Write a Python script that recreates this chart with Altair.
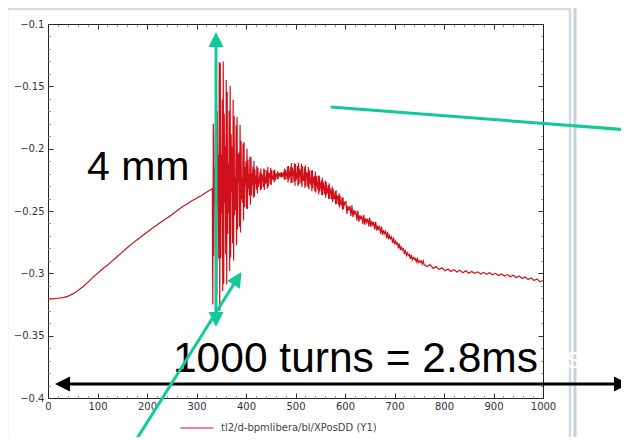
import altair as alt
import pandas as pd

SERIES = "tl2/d-bpmlibera/bl/XPosDD (Y1)"

# ---- data (turn number, position) ----
base_turns = list(range(0, 331, 10)) + [332]
base_vals = [-0.3205, -0.3205, -0.3200, -0.3195, -0.3185, -0.3165, -0.3140, -0.3110,
             -0.3075, -0.3035, -0.3000, -0.2965, -0.2935, -0.2900, -0.2865, -0.2830,
             -0.2795, -0.2762, -0.2730, -0.2700, -0.2670, -0.2640, -0.2612, -0.2585,
             -0.2558, -0.2530, -0.2500, -0.2470, -0.2445, -0.2420, -0.2398, -0.2375,
             -0.2350, -0.2325, -0.2320]

# turn-by-turn samples after the kick, from turn 333
kick_vals = [-0.3250, -0.1800, -0.2860, -0.2150, -0.2450, -0.1850, -0.3150, -0.1450,
             -0.3170, -0.1700, -0.2456, -0.2050, -0.2884, -0.1305, -0.3300, -0.1314,
             -0.2878, -0.2046, -0.2520, -0.1606, -0.3142, -0.1300, -0.3086, -0.1720,
             -0.2434, -0.1980, -0.2848, -0.1450, -0.3090, -0.1545, -0.2685, -0.2120,
             -0.2519, -0.1696, -0.2982, -0.1498, -0.2873, -0.1885, -0.2344, -0.1984,
             -0.2761, -0.1607, -0.2897, -0.1738, -0.2535, -0.2232, -0.2494, -0.1813,
             -0.2774, -0.1746, -0.2648, -0.2040, -0.2265, -0.2029, -0.2626, -0.1809,
             -0.2672, -0.1939, -0.2406, -0.2238, -0.2435, -0.1960, -0.2577, -0.1946,
             -0.2470, -0.2148, -0.2296, -0.2102, -0.2480, -0.2000, -0.2483, -0.2087,
             -0.2319, -0.2206, -0.2375, -0.2065, -0.2450, -0.2066, -0.2374, -0.2199,
             -0.2293, -0.2146, -0.2394, -0.2100, -0.2385, -0.2165, -0.2284, -0.2215,
             -0.2328, -0.2140, -0.2360, -0.2153, -0.2307, -0.2230, -0.2280, -0.2189,
             -0.2334, -0.2160, -0.2326, -0.2200, -0.2261, -0.2215, -0.2309, -0.2159,
             -0.2332, -0.2167, -0.2286, -0.2228, -0.2274, -0.2173, -0.2322, -0.2147,
             -0.2304, -0.2193, -0.2233, -0.2196, -0.2286, -0.2156, -0.2292, -0.2173,
             -0.2249, -0.2221, -0.2248, -0.2174, -0.2272, -0.2170, -0.2254, -0.2201,
             -0.2222, -0.2197, -0.2245, -0.2182, -0.2243, -0.2194, -0.2222, -0.2209,
             -0.2223, -0.2193]

# turn-by-turn samples of the second bump, from turn 471
ring_vals = [-0.2230, -0.2188, -0.2229, -0.2200, -0.2217, -0.2185, -0.2246, -0.2160,
             -0.2252, -0.2171, -0.2220, -0.2190, -0.2243, -0.2144, -0.2271, -0.2139,
             -0.2247, -0.2184, -0.2222, -0.2148, -0.2275, -0.2116, -0.2276, -0.2151,
             -0.2219, -0.2175, -0.2266, -0.2117, -0.2298, -0.2124, -0.2255, -0.2191,
             -0.2240, -0.2140, -0.2298, -0.2114, -0.2287, -0.2161, -0.2221, -0.2174,
             -0.2280, -0.2121, -0.2307, -0.2139, -0.2259, -0.2215, -0.2259, -0.2149,
             -0.2316, -0.2134, -0.2300, -0.2190, -0.2234, -0.2191, -0.2309, -0.2148,
             -0.2326, -0.2174, -0.2277, -0.2233, -0.2293, -0.2176, -0.2341, -0.2171,
             -0.2320, -0.2230, -0.2277, -0.2219, -0.2341, -0.2185, -0.2352, -0.2218,
             -0.2303, -0.2263, -0.2329, -0.2215, -0.2368, -0.2217, -0.2344, -0.2274,
             -0.2317, -0.2254, -0.2371, -0.2231, -0.2374, -0.2265, -0.2331, -0.2296,
             -0.2365, -0.2256, -0.2393, -0.2265, -0.2368, -0.2318, -0.2355, -0.2292,
             -0.2403, -0.2278, -0.2403, -0.2316, -0.2363, -0.2335, -0.2405, -0.2304,
             -0.2429, -0.2320, -0.2405, -0.2370, -0.2404, -0.2341, -0.2446, -0.2333,
             -0.2443, -0.2372, -0.2404, -0.2382, -0.2454, -0.2358, -0.2471, -0.2376,
             -0.2447, -0.2425, -0.2455, -0.2391, -0.2490, -0.2390, -0.2483, -0.2428,
             -0.2458, -0.2429]

# every second turn, from turn 602
decay_vals = [-0.2425, -0.2524, -0.2458, -0.2496, -0.2461, -0.2542, -0.2455, -0.2550,
              -0.2491, -0.2529, -0.2500, -0.2576, -0.2497, -0.2587, -0.2534, -0.2567,
              -0.2538, -0.2606, -0.2530, -0.2611, -0.2558, -0.2589, -0.2561, -0.2623,
              -0.2553, -0.2628, -0.2582, -0.2612, -0.2589, -0.2648, -0.2587, -0.2658,
              -0.2617, -0.2646, -0.2626, -0.2681, -0.2626, -0.2691, -0.2654, -0.2681,
              -0.2665, -0.2717, -0.2668, -0.2728, -0.2697, -0.2722, -0.2708, -0.2756,
              -0.2713, -0.2768, -0.2741, -0.2766, -0.2755, -0.2800, -0.2762, -0.2814,
              -0.2790, -0.2813, -0.2804, -0.2845, -0.2812, -0.2857, -0.2836, -0.2857,
              -0.2849, -0.2883, -0.2852, -0.2891, -0.2872, -0.2888, -0.2879, -0.2908,
              -0.2881, -0.2915, -0.2898, -0.2911, -0.2901, -0.2927, -0.2900, -0.2932]

# every sixth turn, from turn 766
tail_vals = [-0.2945, -0.2930, -0.2960, -0.2945, -0.2970, -0.2955, -0.2980, -0.2965,
             -0.2985, -0.2970, -0.2990, -0.2975, -0.2995, -0.2980, -0.3000, -0.2985,
             -0.3000, -0.2988, -0.3005, -0.2992, -0.3008, -0.2995, -0.3012, -0.3000,
             -0.3018, -0.3005, -0.3022, -0.3010, -0.3028, -0.3015, -0.3035, -0.3022,
             -0.3042, -0.3030, -0.3050, -0.3038, -0.3058, -0.3045, -0.3068, -0.3058]

kick_turns = list(range(333, 333 + len(kick_vals)))
ring_turns = list(range(471, 471 + len(ring_vals)))
decay_turns = list(range(602, 602 + 2 * len(decay_vals), 2))
tail_turns = list(range(766, 766 + 6 * len(tail_vals), 6))

x_ticks = list(range(0, 1001, 100))
x_minor = list(range(0, 1001, 20))
y_ticks = [-0.4, -0.35, -0.3, -0.25, -0.2, -0.15, -0.1]
y_minor = [round(-0.40 + 0.01 * i, 2) for i in range(31)]

# annotation anchors in data units
v_arrow = {"x": [339.4], "y": [-0.1123], "y2": [-0.3382]}
d_arrow = {"x": [171.7], "y": [-0.4377], "x2": [384.4], "y2": [-0.3030]}
g_line = {"x": [571.1], "y": [-0.16658], "x2": [1173.7], "y2": [-0.18502]}
b_arrow = {"x": [26.3], "x2": [1161.6], "y": [-0.38876]}
green_heads = {"x": [339.4, 339.4, 390.9], "y": [-0.10642, -0.34304, -0.2989], "ang": [0, 180, 32]}
black_heads = {"x": [14.1, 1173.7], "y": [-0.38876, -0.38876], "ang": [270, 90]}
labels = {"x": [78.8, 252.5], "y": [-0.22513, -0.37914], "t": ["4 mm", "1000 turns = 2.8ms"],
          "s": [41, 42.5]}

# ---- build ----
turns = base_turns + kick_turns + ring_turns + decay_turns + tail_turns
vals = base_vals + kick_vals + ring_vals + decay_vals + tail_vals
df = pd.DataFrame({"turn": turns, "pos": vals, "series": SERIES})

W, H = 495, 374
GREEN = "#12c99a"
RED = "#d0101a"
FONT = "DejaVu Sans"
HEAD = "M0,0 L-0.5,1 L0.5,1 Z"

xs = alt.Scale(domain=[0, 1000], nice=False, zero=False)
ys = alt.Scale(domain=[-0.4, -0.1], nice=False, zero=False)

xmaj = "datum.value % 100 === 0"
ymaj = "abs(datum.value * 20 - round(datum.value * 20)) < 0.001"


def tick_axis(orient, offset, values, test, domain):
    return alt.Axis(orient=orient, offset=offset, values=values, labels=False, title=None,
                    grid=False, domain=domain, domainColor="#222", domainWidth=1,
                    tickSize={"condition": {"test": test, "value": 5}, "value": 2.5},
                    tickColor={"condition": {"test": test, "value": "#333"}, "value": "#9a9a9a"},
                    tickWidth=1)


frame = alt.Chart(pd.DataFrame({"a": [0]})).mark_rect(
    filled=False, stroke="#d3d9e0", strokeWidth=2.5
).encode(x=alt.value(-41), x2=alt.value(522), y=alt.value(-15), y2=alt.value(415))
frame_top = alt.Chart(pd.DataFrame({"a": [0]})).mark_rule(
    stroke="#dfe8f3", strokeWidth=3
).encode(x=alt.value(-42), x2=alt.value(529), y=alt.value(-18))
frame_right = alt.Chart(pd.DataFrame({"a": [0]})).mark_rule(
    stroke="#c9d1db", strokeWidth=3
).encode(x=alt.value(527), y=alt.value(-18), y2=alt.value(418))

line = alt.Chart(df).mark_line(strokeWidth=1.2).encode(
    x=alt.X("turn:Q", scale=xs, axis=alt.Axis(
        orient="bottom", values=x_ticks, format="d", tickSize=0, domain=True,
        domainColor="#222", domainWidth=1, labelFont=FONT, labelFontSize=10,
        labelColor="#333", labelPadding=3, labelFlush=False, labelOverlap=False,
        grid=False, title=None)),
    y=alt.Y("pos:Q", scale=ys, axis=alt.Axis(
        orient="left", values=y_ticks, format=".2~f", tickSize=0, domain=True,
        domainColor="#222", domainWidth=1, labelFont=FONT, labelFontSize=10,
        labelColor="#333", labelPadding=4, labelFlush=False, labelOverlap=False,
        grid=False, title=None)),
    color=alt.Color("series:N", scale=alt.Scale(range=[RED]), legend=alt.Legend(
        orient="none", legendX=132, legendY=387, direction="horizontal", title=None,
        symbolType="stroke", symbolSize=1089, symbolStrokeWidth=1, labelOffset=7,
        labelFont=FONT, labelFontSize=10, labelColor="#444")),
)

corners = pd.DataFrame({"turn": [0, 1000], "pos": [-0.4, -0.1]})
ticks_a = alt.Chart(corners).mark_point(opacity=0).encode(
    x=alt.X("turn:Q", scale=xs, axis=tick_axis("top", -H, x_minor, xmaj, False)),
    y=alt.Y("pos:Q", scale=ys, axis=tick_axis("right", -W, y_minor, ymaj, False)),
)
ticks_b = alt.Chart(corners).mark_point(opacity=0).encode(
    x=alt.X("turn:Q", scale=xs, axis=tick_axis("bottom", -H, x_minor, xmaj, True)),
    y=alt.Y("pos:Q", scale=ys, axis=tick_axis("left", -W, y_minor, ymaj, True)),
)

texts = alt.Chart(pd.DataFrame(labels)).mark_text(
    align="left", baseline="alphabetic", font="Liberation Sans", color="black"
).encode(
    x=alt.X("x:Q", scale=xs, axis=None), y=alt.Y("y:Q", scale=ys, axis=None),
    text="t:N", size=alt.Size("s:Q", scale=None),
)
ghost = alt.Chart(pd.DataFrame({"x": [1046.0], "y": [-0.3762]})).mark_text(
    text="s", align="left", baseline="alphabetic", font="Liberation Sans", fontSize=30,
    color="white"
).encode(x=alt.X("x:Q", scale=xs, axis=None), y=alt.Y("y:Q", scale=ys, axis=None))

b_shaft = alt.Chart(pd.DataFrame(b_arrow)).mark_rule(color="black", strokeWidth=3).encode(
    x=alt.X("x:Q", scale=xs, axis=None), x2="x2:Q", y=alt.Y("y:Q", scale=ys, axis=None))
b_heads = alt.Chart(pd.DataFrame(black_heads)).mark_point(
    shape=HEAD, size=900, filled=True, color="black", opacity=1, strokeWidth=0
).encode(x=alt.X("x:Q", scale=xs, axis=None), y=alt.Y("y:Q", scale=ys, axis=None),
         angle=alt.Angle("ang:Q", scale=None))

g_shaft = alt.Chart(pd.DataFrame(v_arrow)).mark_rule(color=GREEN, strokeWidth=3).encode(
    x=alt.X("x:Q", scale=xs, axis=None), y=alt.Y("y:Q", scale=ys, axis=None), y2="y2:Q")
g_diag = alt.Chart(pd.DataFrame(d_arrow)).mark_rule(color=GREEN, strokeWidth=3).encode(
    x=alt.X("x:Q", scale=xs, axis=None), y=alt.Y("y:Q", scale=ys, axis=None),
    x2="x2:Q", y2="y2:Q")
g_long = alt.Chart(pd.DataFrame(g_line)).mark_rule(color=GREEN, strokeWidth=3).encode(
    x=alt.X("x:Q", scale=xs, axis=None), y=alt.Y("y:Q", scale=ys, axis=None),
    x2="x2:Q", y2="y2:Q")
g_heads = alt.Chart(pd.DataFrame(green_heads)).mark_point(
    shape=HEAD, size=900, filled=True, color=GREEN, opacity=1, strokeWidth=0
).encode(x=alt.X("x:Q", scale=xs, axis=None), y=alt.Y("y:Q", scale=ys, axis=None),
         angle=alt.Angle("ang:Q", scale=None))

chart = alt.layer(
    frame, frame_top, frame_right, line, ticks_a, ticks_b, texts, ghost,
    b_shaft, b_heads, g_shaft, g_diag, g_long, g_heads
).resolve_axis(x="independent", y="independent").properties(
    width=W, height=H,
    autosize=alt.AutoSizeParams(type="none"),
    padding={"left": 40, "top": 16, "right": 78, "bottom": 39},
    background="white",
).configure_view(strokeWidth=0)

chart.save("out.html", embed_options={"renderer": "svg", "actions": False})
